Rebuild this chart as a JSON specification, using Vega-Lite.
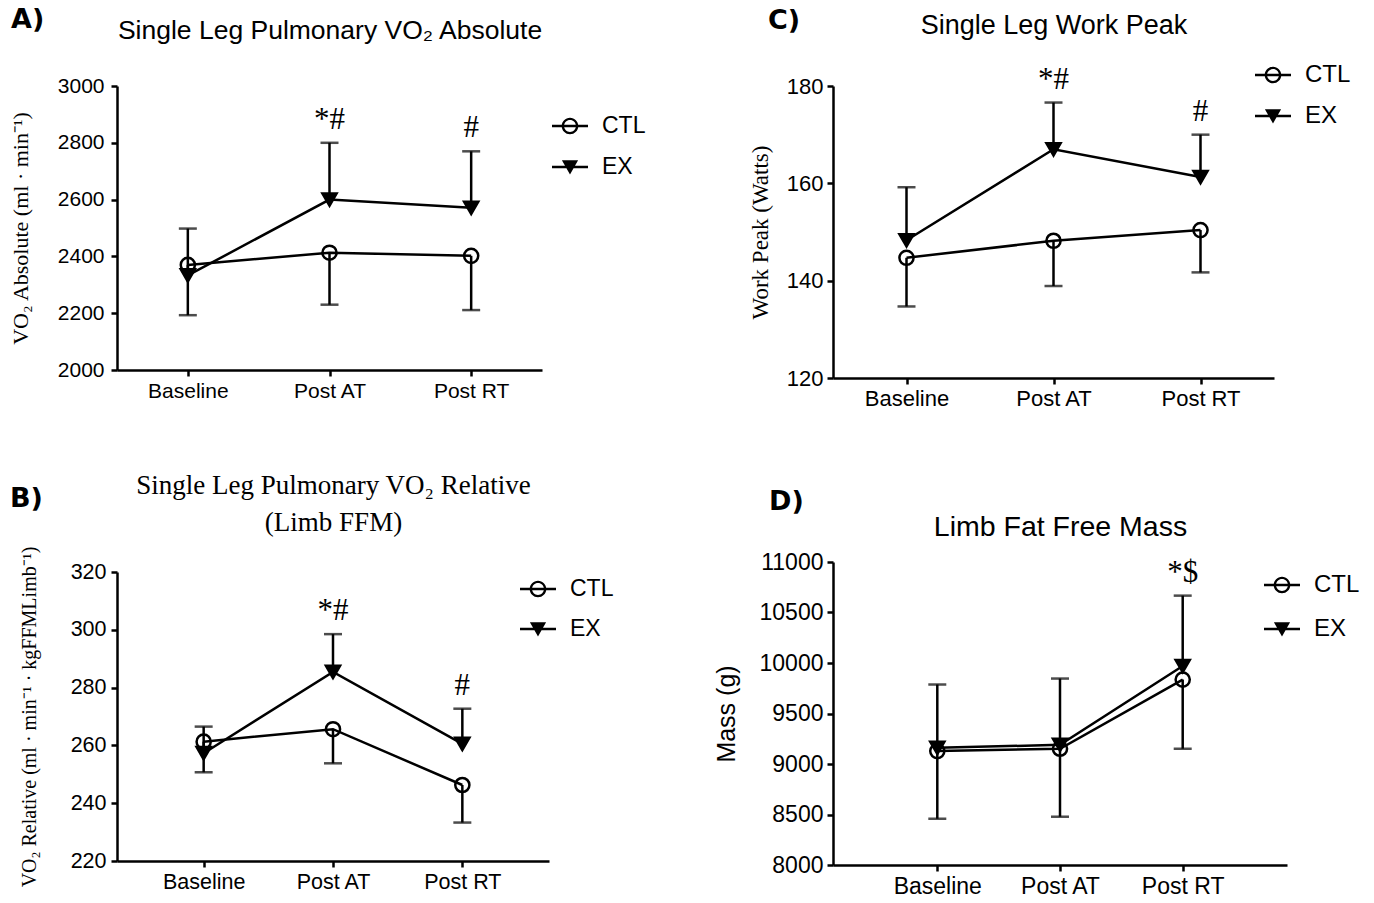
{
  "$schema": "https://vega.github.io/schema/vega-lite/v6.json",
  "padding": {"left": 9, "top": 6, "right": 5, "bottom": 5},
  "config": {
    "view": {"stroke": null},
    "font": "Liberation Sans",
    "axis": {
      "grid": false,
      "domainColor": "black",
      "domainWidth": 2.5,
      "tickColor": "black",
      "tickWidth": 2.5,
      "tickSize": 6,
      "labelFont": "Liberation Sans",
      "labelFontSize": 21,
      "labelColor": "black",
      "labelPadding": 4,
      "titleColor": "black",
      "titleFontWeight": "normal"
    },
    "legend": {
      "title": null,
      "orient": "none",
      "padding": 0,
      "symbolSize": 1296,
      "symbolOpacity": 1,
      "symbolFillColor": "black",
      "symbolStrokeWidth": 0,
      "labelFont": "Liberation Sans",
      "labelColor": "black",
      "labelOffset": 14
    },
    "title": {"font": "DejaVu Sans", "fontSize": 27, "fontWeight": "bold", "color": "black", "anchor": "start", "frame": "group"}
  },
  "datasets": {
    "vo2Absolute": [
      {"time": "Baseline", "group": "CTL", "mean": 2370, "bar": 2193, "note": ""},
      {"time": "Post AT", "group": "CTL", "mean": 2413, "bar": 2230, "note": ""},
      {"time": "Post RT", "group": "CTL", "mean": 2402, "bar": 2211, "note": ""},
      {"time": "Baseline", "group": "EX", "mean": 2333, "bar": 2498, "note": ""},
      {"time": "Post AT", "group": "EX", "mean": 2600, "bar": 2800, "note": "*#"},
      {"time": "Post RT", "group": "EX", "mean": 2571, "bar": 2770, "note": "#"}
    ],
    "vo2Relative": [
      {"time": "Baseline", "group": "CTL", "mean": 261.3, "bar": 250.7, "note": ""},
      {"time": "Post AT", "group": "CTL", "mean": 265.6, "bar": 253.8, "note": ""},
      {"time": "Post RT", "group": "CTL", "mean": 246.3, "bar": 233.3, "note": ""},
      {"time": "Baseline", "group": "EX", "mean": 257.3, "bar": 266.5, "note": ""},
      {"time": "Post AT", "group": "EX", "mean": 285.4, "bar": 298.5, "note": "*#"},
      {"time": "Post RT", "group": "EX", "mean": 260.5, "bar": 272.7, "note": "#"}
    ],
    "workPeak": [
      {"time": "Baseline", "group": "CTL", "mean": 144.7, "bar": 134.7, "note": ""},
      {"time": "Post AT", "group": "CTL", "mean": 148.2, "bar": 138.9, "note": ""},
      {"time": "Post RT", "group": "CTL", "mean": 150.4, "bar": 141.7, "note": ""},
      {"time": "Baseline", "group": "EX", "mean": 148.3, "bar": 159.2, "note": ""},
      {"time": "Post AT", "group": "EX", "mean": 167.0, "bar": 176.6, "note": "*#"},
      {"time": "Post RT", "group": "EX", "mean": 161.3, "bar": 170.0, "note": "#"}
    ],
    "limbFFM": [
      {"time": "Baseline", "group": "CTL", "mean": 9128, "bar": 8458, "note": ""},
      {"time": "Post AT", "group": "CTL", "mean": 9151, "bar": 8478, "note": ""},
      {"time": "Post RT", "group": "CTL", "mean": 9836, "bar": 9151, "note": ""},
      {"time": "Baseline", "group": "EX", "mean": 9160, "bar": 9787, "note": ""},
      {"time": "Post AT", "group": "EX", "mean": 9190, "bar": 9846, "note": ""},
      {"time": "Post RT", "group": "EX", "mean": 9970, "bar": 10667, "note": "*$"}
    ]
  },
  "hconcat": [
    {
      "spacing": 70,
      "vconcat": [
        {
          "data": {"name": "vo2Absolute"},
          "width": 425,
          "height": 284,
          "title": {"text": "A)", "dx": -106, "offset": -17},
          "encoding": {
            "x": {"field": "time", "type": "ordinal", "sort": ["Baseline", "Post AT", "Post RT"], "scale": {"type": "point", "padding": 0.5}, "axis": {"title": null, "labelAngle": 0}},
            "y": {"field": "mean", "type": "quantitative", "scale": {"domain": [2000, 3000], "nice": false, "zero": false},
                  "axis": {"values": [2000, 2200, 2400, 2600, 2800, 3000], "format": "d", "labelPadding": 7, "title": "VO₂ Absolute (ml · min⁻¹)", "titleFont": "Liberation Serif", "titleFontSize": 22, "titlePadding": 25}}
          },
          "layer": [
            {
              "layer": [
                {"mark": {"type": "line", "color": "black", "strokeWidth": 2.5}, "encoding": {"detail": {"field": "group"}}},
                {"mark": {"type": "rule", "color": "black", "strokeWidth": 2.5}, "encoding": {"y2": {"field": "bar"}}},
                {"mark": {"type": "tick", "orient": "horizontal", "color": "black", "size": 18, "thickness": 2.5}, "encoding": {"y": {"field": "bar", "type": "quantitative"}}},
                {"mark": {"type": "point", "size": 200, "stroke": "black", "strokeWidth": 2.5, "opacity": 1},
                 "encoding": {
                   "shape": {"field": "group", "scale": {"domain": ["CTL", "EX"], "range": ["circle", "triangle-down"]}, "legend": null},
                   "fill": {"field": "group", "scale": {"domain": ["CTL", "EX"], "range": ["transparent", "black"]}, "legend": null}
                 }},
                {"mark": {"type": "point", "filled": true, "fill": "black", "opacity": 0, "size": 10},
                 "encoding": {
                   "shape": {"field": "group", "scale": {"domain": ["CTL", "EX"], "range": ["M-1,-0.07H1V0.07H-1Z M0.46,0A0.46,0.46,0,1,1,-0.46,0A0.46,0.46,0,1,1,0.46,0Z M0.33,0A0.33,0.33,0,1,0,-0.33,0A0.33,0.33,0,1,0,0.33,0Z", "M-1,-0.07H1V0.07H-1Z M-0.45,-0.38H0.45L0,0.42Z"]},
                             "legend": {"legendX": 435, "legendY": 22, "labelFontSize": 23, "rowPadding": 11}}
                 }}
              ],
              "resolve": {"scale": {"shape": "independent"}}
            },
            {
              "mark": {"type": "text", "font": "Liberation Serif", "fontSize": 31, "baseline": "alphabetic", "dy": -14, "color": "black"},
              "encoding": {
                "x": {"field": "time", "type": "ordinal", "sort": ["Baseline", "Post AT", "Post RT"], "scale": {"type": "point", "padding": 0.5},
                      "axis": {"orient": "top", "domain": false, "ticks": false, "labels": false, "title": "Single Leg Pulmonary VO₂ Absolute", "titleFont": "Liberation Sans", "titleFontSize": 26.5, "titleBaseline": "bottom", "titlePadding": 42}},
                "y": {"field": "bar", "type": "quantitative"},
                "text": {"field": "note"}
              }
            }
          ],
          "resolve": {"axis": {"x": "independent"}}
        },
        {
          "data": {"name": "vo2Relative"},
          "width": 432,
          "height": 289,
          "title": {"text": "B)", "dx": -107, "offset": -42},
          "encoding": {
            "x": {"field": "time", "type": "ordinal", "sort": ["Baseline", "Post AT", "Post RT"], "scale": {"type": "point", "padding": 0.67}, "axis": {"title": null, "labelAngle": 0, "labelFontSize": 21.5}},
            "y": {"field": "mean", "type": "quantitative", "scale": {"domain": [220, 320], "nice": false, "zero": false},
                  "axis": {"values": [220, 240, 260, 280, 300, 320], "format": "d", "labelFontSize": 21.5, "labelPadding": 5, "title": "VO₂ Relative (ml · min⁻¹ · kgFFMLimb⁻¹)", "titleFont": "Liberation Serif", "titleFontSize": 20, "titlePadding": 31}}
          },
          "layer": [
            {
              "layer": [
                {"mark": {"type": "line", "color": "black", "strokeWidth": 2.5}, "encoding": {"detail": {"field": "group"}}},
                {"mark": {"type": "rule", "color": "black", "strokeWidth": 2.5}, "encoding": {"y2": {"field": "bar"}}},
                {"mark": {"type": "tick", "orient": "horizontal", "color": "black", "size": 18, "thickness": 2.5}, "encoding": {"y": {"field": "bar", "type": "quantitative"}}},
                {"mark": {"type": "point", "size": 200, "stroke": "black", "strokeWidth": 2.5, "opacity": 1},
                 "encoding": {
                   "shape": {"field": "group", "scale": {"domain": ["CTL", "EX"], "range": ["circle", "triangle-down"]}, "legend": null},
                   "fill": {"field": "group", "scale": {"domain": ["CTL", "EX"], "range": ["transparent", "black"]}, "legend": null}
                 }},
                {"mark": {"type": "point", "filled": true, "fill": "black", "opacity": 0, "size": 10},
                 "encoding": {
                   "shape": {"field": "group", "scale": {"domain": ["CTL", "EX"], "range": ["M-1,-0.07H1V0.07H-1Z M0.46,0A0.46,0.46,0,1,1,-0.46,0A0.46,0.46,0,1,1,0.46,0Z M0.33,0A0.33,0.33,0,1,0,-0.33,0A0.33,0.33,0,1,0,0.33,0Z", "M-1,-0.07H1V0.07H-1Z M-0.45,-0.38H0.45L0,0.42Z"]},
                             "legend": {"legendX": 403, "legendY": -1, "labelFontSize": 23, "rowPadding": 10}}
                 }}
              ],
              "resolve": {"scale": {"shape": "independent"}}
            },
            {
              "mark": {"type": "text", "font": "Liberation Serif", "fontSize": 31, "baseline": "alphabetic", "dy": -14, "color": "black"},
              "encoding": {
                "x": {"field": "time", "type": "ordinal", "sort": ["Baseline", "Post AT", "Post RT"], "scale": {"type": "point", "padding": 0.67},
                      "axis": {"orient": "top", "domain": false, "ticks": false, "labels": false, "title": ["Single Leg Pulmonary VO₂ Relative", "(Limb FFM)"], "titleFont": "Liberation Serif", "titleFontSize": 27, "titleLineHeight": 37, "titleBaseline": "bottom", "titlePadding": 36}},
                "y": {"field": "bar", "type": "quantitative"},
                "text": {"field": "note"}
              }
            }
          ],
          "resolve": {"axis": {"x": "independent"}}
        }
      ]
    },
    {
      "spacing": 79,
      "vconcat": [
        {
          "data": {"name": "workPeak"},
          "width": 441,
          "height": 292,
          "title": {"text": "C)", "dx": -65, "offset": -24},
          "encoding": {
            "x": {"field": "time", "type": "ordinal", "sort": ["Baseline", "Post AT", "Post RT"], "scale": {"type": "point", "padding": 0.5}, "axis": {"title": null, "labelAngle": 0, "labelFontSize": 22}},
            "y": {"field": "mean", "type": "quantitative", "scale": {"domain": [120, 180], "nice": false, "zero": false},
                  "axis": {"values": [120, 140, 160, 180], "format": "d", "labelFontSize": 22, "title": "Work Peak (Watts)", "titleFont": "Liberation Serif", "titleFontSize": 23, "titlePadding": 14}}
          },
          "layer": [
            {
              "layer": [
                {"mark": {"type": "line", "color": "black", "strokeWidth": 2.5}, "encoding": {"detail": {"field": "group"}}},
                {"mark": {"type": "rule", "color": "black", "strokeWidth": 2.5}, "encoding": {"y2": {"field": "bar"}}},
                {"mark": {"type": "tick", "orient": "horizontal", "color": "black", "size": 18, "thickness": 2.5}, "encoding": {"y": {"field": "bar", "type": "quantitative"}}},
                {"mark": {"type": "point", "size": 200, "stroke": "black", "strokeWidth": 2.5, "opacity": 1},
                 "encoding": {
                   "shape": {"field": "group", "scale": {"domain": ["CTL", "EX"], "range": ["circle", "triangle-down"]}, "legend": null},
                   "fill": {"field": "group", "scale": {"domain": ["CTL", "EX"], "range": ["transparent", "black"]}, "legend": null}
                 }},
                {"mark": {"type": "point", "filled": true, "fill": "black", "opacity": 0, "size": 10},
                 "encoding": {
                   "shape": {"field": "group", "scale": {"domain": ["CTL", "EX"], "range": ["M-1,-0.07H1V0.07H-1Z M0.46,0A0.46,0.46,0,1,1,-0.46,0A0.46,0.46,0,1,1,0.46,0Z M0.33,0A0.33,0.33,0,1,0,-0.33,0A0.33,0.33,0,1,0,0.33,0Z", "M-1,-0.07H1V0.07H-1Z M-0.45,-0.38H0.45L0,0.42Z"]},
                             "legend": {"legendX": 422, "legendY": -29, "labelFontSize": 24, "rowPadding": 11}}
                 }}
              ],
              "resolve": {"scale": {"shape": "independent"}}
            },
            {
              "mark": {"type": "text", "font": "Liberation Serif", "fontSize": 31, "baseline": "alphabetic", "dy": -14, "color": "black"},
              "encoding": {
                "x": {"field": "time", "type": "ordinal", "sort": ["Baseline", "Post AT", "Post RT"], "scale": {"type": "point", "padding": 0.5},
                      "axis": {"orient": "top", "domain": false, "ticks": false, "labels": false, "title": "Single Leg Work Peak", "titleFont": "Liberation Sans", "titleFontSize": 27, "titleBaseline": "bottom", "titlePadding": 47}},
                "y": {"field": "bar", "type": "quantitative"},
                "text": {"field": "note"}
              }
            }
          ],
          "resolve": {"axis": {"x": "independent"}}
        },
        {
          "data": {"name": "limbFFM"},
          "width": 454,
          "height": 303,
          "title": {"text": "D)", "dx": -64, "offset": -4},
          "encoding": {
            "x": {"field": "time", "type": "ordinal", "sort": ["Baseline", "Post AT", "Post RT"], "scale": {"type": "point", "padding": 0.85}, "axis": {"title": null, "labelAngle": 0, "labelFontSize": 23}},
            "y": {"field": "mean", "type": "quantitative", "scale": {"domain": [8000, 11000], "nice": false, "zero": false},
                  "axis": {"values": [8000, 8500, 9000, 9500, 10000, 10500, 11000], "format": "d", "labelFontSize": 23, "title": "Mass (g)", "titleFont": "Liberation Sans", "titleFontSize": 25, "titlePadding": 20}}
          },
          "layer": [
            {
              "layer": [
                {"mark": {"type": "line", "color": "black", "strokeWidth": 2.5}, "encoding": {"detail": {"field": "group"}}},
                {"mark": {"type": "rule", "color": "black", "strokeWidth": 2.5}, "encoding": {"y2": {"field": "bar"}}},
                {"mark": {"type": "tick", "orient": "horizontal", "color": "black", "size": 18, "thickness": 2.5}, "encoding": {"y": {"field": "bar", "type": "quantitative"}}},
                {"mark": {"type": "point", "size": 200, "stroke": "black", "strokeWidth": 2.5, "opacity": 1},
                 "encoding": {
                   "shape": {"field": "group", "scale": {"domain": ["CTL", "EX"], "range": ["circle", "triangle-down"]}, "legend": null},
                   "fill": {"field": "group", "scale": {"domain": ["CTL", "EX"], "range": ["transparent", "black"]}, "legend": null}
                 }},
                {"mark": {"type": "point", "filled": true, "fill": "black", "opacity": 0, "size": 10},
                 "encoding": {
                   "shape": {"field": "group", "scale": {"domain": ["CTL", "EX"], "range": ["M-1,-0.07H1V0.07H-1Z M0.46,0A0.46,0.46,0,1,1,-0.46,0A0.46,0.46,0,1,1,0.46,0Z M0.33,0A0.33,0.33,0,1,0,-0.33,0A0.33,0.33,0,1,0,0.33,0Z", "M-1,-0.07H1V0.07H-1Z M-0.45,-0.38H0.45L0,0.42Z"]},
                             "legend": {"legendX": 431, "legendY": 5, "labelFontSize": 24, "rowPadding": 14}}
                 }}
              ],
              "resolve": {"scale": {"shape": "independent"}}
            },
            {
              "mark": {"type": "text", "font": "Liberation Serif", "fontSize": 31, "baseline": "alphabetic", "dy": -14, "color": "black"},
              "encoding": {
                "x": {"field": "time", "type": "ordinal", "sort": ["Baseline", "Post AT", "Post RT"], "scale": {"type": "point", "padding": 0.85},
                      "axis": {"orient": "top", "domain": false, "ticks": false, "labels": false, "title": "Limb Fat Free Mass", "titleFont": "Liberation Sans", "titleFontSize": 28.5, "titleBaseline": "bottom", "titlePadding": 21}},
                "y": {"field": "bar", "type": "quantitative"},
                "text": {"field": "note"}
              }
            }
          ],
          "resolve": {"axis": {"x": "independent"}}
        }
      ]
    }
  ],
  "spacing": 68
}
